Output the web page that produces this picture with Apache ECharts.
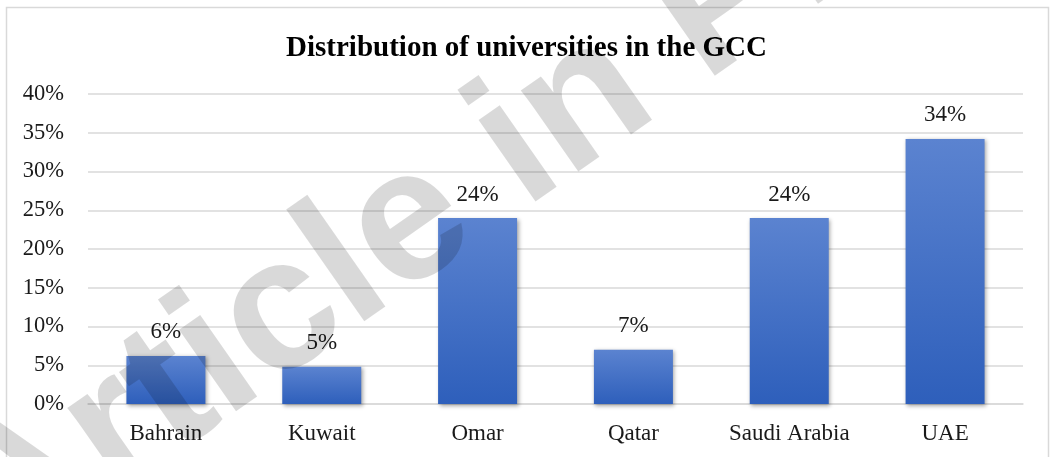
<!DOCTYPE html>
<html>
<head>
<meta charset="utf-8">
<style>html,body{margin:0;padding:0;background:#fff;}#c{width:1053px;height:457px;}</style>
<script src="https://cdn.jsdelivr.net/npm/echarts@6/dist/echarts.min.js"></script>
</head>
<body>
<div id="c"></div>
<script>
var categories = ['Bahrain', 'Kuwait', 'Omar', 'Qatar', 'Saudi Arabia', 'UAE'];
var shares = [6.2, 4.8, 24.0, 7.0, 24.0, 34.2];
var labels = ['6%', '5%', '24%', '7%', '24%', '34%'];
var yTicks = [0, 5, 10, 15, 20, 25, 30, 35, 40];
var titleText = 'Distribution of universities in the GCC';
var watermarkText = 'Article in Press';

var chart = echarts.init(document.getElementById('c'), null, {renderer: 'canvas'});
var serif = '"Liberation Serif", "Times New Roman", serif';
chart.setOption({
  animation: false,
  backgroundColor: '#fff',
  title: {
    text: titleText,
    left: 'center',
    top: 29,
    textStyle: {fontFamily: serif, fontWeight: 'bold', fontSize: 29, color: '#000'}
  },
  grid: {left: 88, right: 30, top: 94, bottom: 53, containLabel: false},
  xAxis: {
    type: 'category',
    data: categories,
    axisLine: {show: true, lineStyle: {color: '#d9d9d9', width: 1.5}},
    axisTick: {show: false},
    axisLabel: {interval: 0, fontFamily: serif, fontSize: 23, color: '#1a1a1a', margin: 18}
  },
  yAxis: {
    type: 'value',
    min: yTicks[0],
    max: yTicks[yTicks.length - 1],
    interval: 5,
    axisLine: {show: false},
    axisTick: {show: false},
    splitLine: {lineStyle: {color: '#d9d9d9', width: 1.5}},
    axisLabel: {fontFamily: serif, fontSize: 22.5, color: '#1a1a1a', margin: 24,
      formatter: function (v) { return v + '%'; }}
  },
  series: [{
    type: 'bar',
    data: shares,
    barWidth: 79,
    itemStyle: {
      color: new echarts.graphic.LinearGradient(0, 0, 0, 1, [
        {offset: 0, color: '#5b83d0'},
        {offset: 1, color: '#2e5fbb'}
      ]),
      shadowBlur: 4,
      shadowColor: 'rgba(0,0,0,0.35)',
      shadowOffsetX: 1.5,
      shadowOffsetY: 1.5
    },
    label: {
      show: true,
      position: 'top',
      distance: 12,
      fontFamily: serif,
      fontSize: 23,
      color: '#1a1a1a',
      formatter: function (p) { return labels[p.dataIndex]; }
    }
  }],
  graphic: [
    {
      type: 'rect',
      shape: {x: 6.5, y: 7.5, width: 1042, height: 470},
      style: {fill: 'none', stroke: '#d9d9d9', lineWidth: 1.5},
      silent: true,
      z: -1
    },
    {
      type: 'text',
      x: -27,
      y: 532,
      rotation: 35 * Math.PI / 180,
      style: {
        text: watermarkText,
        font: 'bold 188px "Liberation Sans", Arial, sans-serif',
        fill: 'rgba(0,0,0,0.15)',
        textAlign: 'left',
        textVerticalAlign: 'middle'
      },
      silent: true,
      z: 100
    }
  ]
});
</script>
</body>
</html>
